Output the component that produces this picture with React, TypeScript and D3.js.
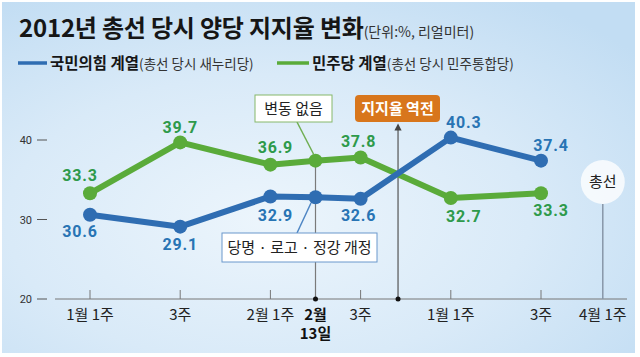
import React from "react";
import * as d3 from "d3";

// ---- data ----
const xLabels = ["1월 1주", "3주", "2월 1주", "2월|13일", "3주", "1월 1주", "3주", "4월 1주"];
const weekIndex = [0, 2, 4, 5, 6, 8, 10, 11.37];
const pppValues = [30.6, 29.1, 32.9, 32.8, 32.6, 40.3, 37.4];
const dpValues = [33.3, 39.7, 36.9, 37.4, 37.8, 32.7, 33.3];
const labeled = [true, true, true, false, true, true, true];
const yTicks = [20, 30, 40];
const reversalWeek = 6.83;
const electionWeek = 11.37;

// ---- layout ----
const W = 640, H = 357;
const FONT = "'Noto Sans CJK KR', 'Noto Sans', sans-serif";
const NUMFONT = "Roboto, 'Noto Sans', sans-serif";
const BLUE = "#2f6db2";
const BLUE_TXT = "#2874b4";
const GREEN = "#5aab3a";
const GREEN_TXT = "#2e9a4b";
const pppLabelOff: [number, number][] = [[-10, 16], [0, 17], [5, 19], [0, 0], [-2, 16], [13, -16], [10, -16]];
const dpLabelOff: [number, number][] = [[-10, -18], [0, -15], [5, -18], [0, 0], [-2, -16], [13, 18], [10, 17]];

export default function App() {
  const x = d3.scaleLinear().domain([0, 10]).range([90, 541]);
  const y = d3.scaleLinear().domain([20, 40]).range([299, 140]);
  const line = d3
    .line<number>()
    .x((_, i) => x(weekIndex[i]))
    .y((v) => y(v));
  const axisY = y(20);
  const xd = x(weekIndex[3]);
  const xr = x(reversalWeek);
  const xe = x(electionWeek);

  return (
    <svg width={W} height={H} style={{ position: "absolute", left: 0, top: 0, display: "block" }}>
      <defs>
        <radialGradient id="bg" cx="42%" cy="62%" r="75%">
          <stop offset="0%" stopColor="#ecf5fc" />
          <stop offset="55%" stopColor="#d9eaf8" />
          <stop offset="100%" stopColor="#c2ddf3" />
        </radialGradient>
        <marker id="arr" viewBox="0 0 10 10" refX="5" refY="5" markerWidth="6" markerHeight="6" orient="auto">
          <path d="M0,0 L10,5 L0,10 z" fill="#444" />
        </marker>
      </defs>
      <rect x={0} y={0} width={W} height={H} fill="#ffffff" />
      <rect x={2} y={2} width={633} height={351} fill="url(#bg)" />

      {/* title */}
      <text x={19} y={37} fontFamily={FONT} fontSize={24} fontWeight={700} fill="#161616" letterSpacing={-0.2}>
        2012년 총선 당시 양당 지지율 변화
        <tspan fontSize={14} fontWeight={400} fill="#333" letterSpacing={0}>(단위:%, 리얼미터)</tspan>
      </text>

      {/* legend */}
      <line x1={18} x2={47} y1={63} y2={63} stroke={BLUE} strokeWidth={3.5} />
      <text x={50} y={68.5} fontFamily={FONT} fontSize={15.5} fontWeight={700} fill="#161616">
        국민의힘 계열
        <tspan fontSize={13.5} fontWeight={400} fill="#333">(총선 당시 새누리당)</tspan>
      </text>
      <line x1={277} x2={309} y1={63} y2={63} stroke={GREEN} strokeWidth={3.5} />
      <text x={312} y={68.5} fontFamily={FONT} fontSize={15.5} fontWeight={700} fill="#161616">
        민주당 계열
        <tspan fontSize={13.5} fontWeight={400} fill="#333">(총선 당시 민주통합당)</tspan>
      </text>

      {/* y ticks */}
      {yTicks.map((t) => (
        <g key={t}>
          <text x={32} y={y(t) + 4} textAnchor="end" fontFamily={NUMFONT} fontSize={11} fill="#333">
            {t}
          </text>
          <line x1={37} x2={47} y1={y(t)} y2={y(t)} stroke="#555" strokeWidth={1} />
        </g>
      ))}

      {/* x axis */}
      <line x1={55} x2={627} y1={axisY} y2={axisY} stroke="#777" strokeWidth={1} />
      {weekIndex.map((w, i) =>
        i === 3 || i === 7 ? null : (
          <line key={i} x1={x(w)} x2={x(w)} y1={axisY - 9} y2={axisY} stroke="#777" strokeWidth={1} />
        )
      )}
      {xLabels.map((l, i) => {
        const parts = l.split("|");
        if (parts.length > 1) {
          return (
            <text key={i} x={x(weekIndex[i])} textAnchor="middle" fontFamily={FONT} fontSize={15} fontWeight={700} fill="#111">
              <tspan x={x(weekIndex[i])} y={320}>{parts[0]}</tspan>
              <tspan x={x(weekIndex[i])} y={339}>{parts[1]}</tspan>
            </text>
          );
        }
        return (
          <text key={i} x={x(weekIndex[i])} y={320} textAnchor="middle" fontFamily={FONT} fontSize={15} fill="#222">
            {l}
          </text>
        );
      })}

      {/* reference lines */}
      <line x1={xd} x2={xd} y1={y(dpValues[3])} y2={axisY} stroke="#7a7a7a" strokeWidth={1.2} />
      <circle cx={xd} cy={axisY} r={2.5} fill="#111" />
      <line x1={xr} x2={xr} y1={axisY} y2={127} stroke="#555" strokeWidth={1.2} markerEnd="url(#arr)" />
      <circle cx={xr} cy={axisY} r={2.5} fill="#111" />
      <line x1={xe} x2={xe} y1={204} y2={axisY} stroke="#8797a8" strokeWidth={1.5} />
      <circle cx={xe} cy={182} r={22} fill="#ffffff" fillOpacity={0.78} />
      <text x={xe} y={187} textAnchor="middle" fontFamily={FONT} fontSize={15} fill="#222">
        총선
      </text>

      {/* series */}
      <path d={line(dpValues) || ""} fill="none" stroke={GREEN} strokeWidth={6} strokeLinejoin="round" />
      <path d={line(pppValues) || ""} fill="none" stroke={BLUE} strokeWidth={6} strokeLinejoin="round" />
      {dpValues.map((v, i) => (
        <circle key={"g" + i} cx={x(weekIndex[i])} cy={y(v)} r={7} fill={GREEN} />
      ))}
      {pppValues.map((v, i) => (
        <circle key={"b" + i} cx={x(weekIndex[i])} cy={y(v)} r={7} fill={BLUE} />
      ))}

      {/* value labels */}
      {dpValues.map((v, i) =>
        labeled[i] ? (
          <text key={"gl" + i} x={x(weekIndex[i]) + dpLabelOff[i][0]} y={y(v) + dpLabelOff[i][1] + 6} textAnchor="middle"
            fontFamily={NUMFONT} fontSize={16} fontWeight={700} fill={GREEN_TXT} letterSpacing={0.8}>
            {v.toFixed(1)}
          </text>
        ) : null
      )}
      {pppValues.map((v, i) =>
        labeled[i] ? (
          <text key={"bl" + i} x={x(weekIndex[i]) + pppLabelOff[i][0]} y={y(v) + pppLabelOff[i][1] + 6} textAnchor="middle"
            fontFamily={NUMFONT} fontSize={16} fontWeight={700} fill={BLUE_TXT} letterSpacing={0.8}>
            {v.toFixed(1)}
          </text>
        ) : null
      )}

      {/* annotations */}
      <line x1={297} y1={122} x2={314} y2={155} stroke="#6fae52" strokeWidth={1.5} />
      <rect x={255} y={95} width={77} height={27} fill="#ffffff" stroke="#86b86a" strokeWidth={1} />
      <text x={293.5} y={114} textAnchor="middle" fontFamily={FONT} fontSize={15} fill="#222">변동 없음</text>

      <rect x={355} y={95} width={85} height={27} rx={4} fill="#d8761c" />
      <text x={397.5} y={114} textAnchor="middle" fontFamily={FONT} fontSize={15} fontWeight={700} fill="#ffffff">지지율 역전</text>

      <line x1={297} y1={233} x2={311} y2={203} stroke="#4f86c4" strokeWidth={1.5} />
      <rect x={222} y={233} width={155} height={29} fill="#ffffff" stroke="#6a98cc" strokeWidth={1} />
      <text x={299.5} y={253} textAnchor="middle" fontFamily={FONT} fontSize={15} fill="#222">당명 · 로고 · 정강 개정</text>
    </svg>
  );
}
